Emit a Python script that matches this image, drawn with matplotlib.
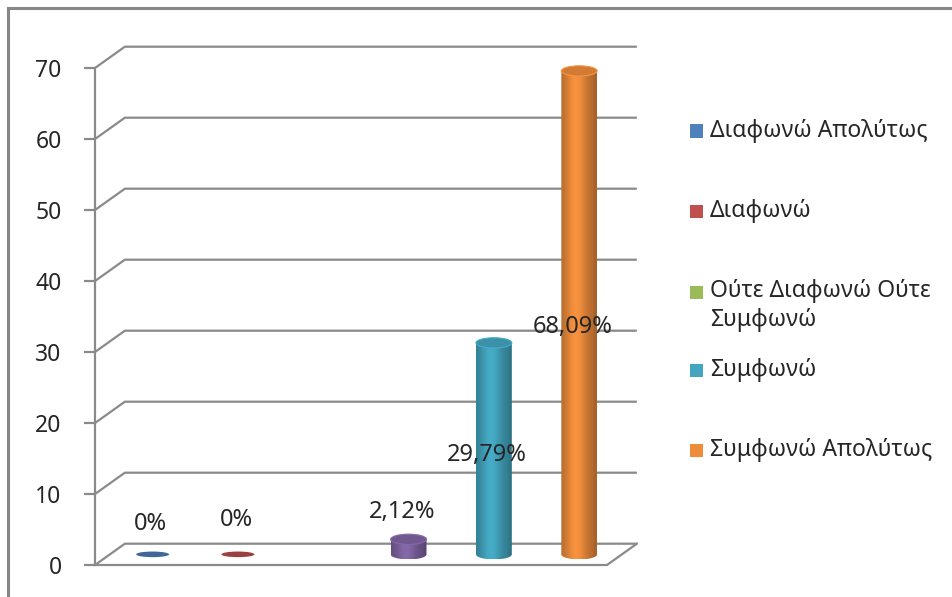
import numpy as np
import matplotlib
matplotlib.use("Agg")
import matplotlib.pyplot as plt
from matplotlib.patches import Polygon, Ellipse, Rectangle
from matplotlib.lines import Line2D
from matplotlib.colors import to_rgb

# Survey responses (percent) per answer; the third answer has no cylinder,
# the purple cylinder has no legend entry.
legend_names = ["Διαφωνώ Απολύτως", "Διαφωνώ", "Ούτε Διαφωνώ Ούτε\nΣυμφωνώ", None,
                "Συμφωνώ", "Συμφωνώ Απολύτως"]
values = [0, 0, None, 2.12, 29.79, 68.09]
colors = ["#4F81BD", "#C0504D", "#9BBB59", "#8064A2", "#43A5BF", "#EE8C3C"]
y_ticks = [0, 10, 20, 30, 40, 50, 60, 70]

FONT = "Noto Sans"
GRID = "#8a8a8a"
TXT = "#262626"

W, H = 952, 597
fig = plt.figure(figsize=(W / 100, H / 100), dpi=100)

# pseudo-3D geometry (data units)
n = len(values)
depth_dx, depth_dy = 0.35, 3.0
x_max, y_max = 6.39, 74.0
ax_left_px, ax_bottom_px = 95, 565
px_per_x, px_per_y = 85.33, 7.1
ax = fig.add_axes([ax_left_px / W, (H - ax_bottom_px) / H,
                   x_max * px_per_x / W, y_max * px_per_y / H])
ax.set_xlim(0, x_max)
ax.set_ylim(0, y_max)
ax.set_facecolor("none")
for s in ["top", "right", "bottom"]:
    ax.spines[s].set_visible(False)
ax.spines["left"].set_bounds(0, y_ticks[-1])
ax.spines["left"].set_color(GRID)
ax.spines["left"].set_linewidth(1.6)
ax.set_xticks([])
ax.set_yticks(y_ticks)
ax.tick_params(axis="y", length=8, width=1.6, color=GRID, pad=16,
               labelsize=16.5, labelcolor=TXT)
for lab in ax.get_yticklabels():
    lab.set_fontfamily(FONT)

# back-wall gridlines with their diagonal from the front axis
for v in y_ticks:
    ax.plot([0, depth_dx, n + depth_dx], [v, v + depth_dy, v + depth_dy],
            color=GRID, lw=1.6, solid_capstyle="butt", clip_on=False, zorder=1)
# floor front edge and right edge
ax.plot([0, n, n + depth_dx], [0, 0, depth_dy], color=GRID, lw=1.6,
        clip_on=False, zorder=1)

cyl_w = 0.42
ry = 0.72
base = depth_dy / 2

def shaded(color, m):
    rgb = np.array(to_rgb(color))
    t = np.linspace(0, 1, m)
    f = 0.74 + 0.3 * np.exp(-((t - 0.42) / 0.3) ** 2)
    f[t > 0.9] *= 0.95
    img = np.clip(rgb[None, :] * f[:, None], 0, 1)
    return img[None, :, :]

for i, (v, c) in enumerate(zip(values, colors)):
    if v is None:
        continue
    cx = i + 0.5 + depth_dx / 2
    top = base + v
    rgb = np.array(to_rgb(c))
    if v > 0:
        th = np.linspace(np.pi, 2 * np.pi, 60)
        arc = np.column_stack([cx + cyl_w / 2 * np.cos(th), base + ry * np.sin(th)])
        pts = np.vstack([arc, [[cx + cyl_w / 2, top], [cx - cyl_w / 2, top]]])
        body = Polygon(pts, closed=True, facecolor="none", edgecolor="none")
        ax.add_patch(body)
        im = ax.imshow(shaded(c, 200), extent=[cx - cyl_w / 2, cx + cyl_w / 2,
                                               base - ry, top],
                       aspect="auto", interpolation="bilinear", zorder=3)
        im.set_clip_path(body)
        ax.add_patch(Ellipse((cx, top), cyl_w, 2 * ry,
                             facecolor=np.clip(rgb * 0.88, 0, 1),
                             edgecolor=np.clip(rgb * 1.05, 0, 1),
                             lw=0.8, zorder=4))
        lx, ly = cx - 0.08, (base + v + 3.9) if v < 10 else (base + v * 0.47)
    else:
        ax.add_patch(Ellipse((cx, base), cyl_w * 0.92, ry * 1.1,
                             facecolor=np.clip(rgb * 0.8, 0, 1),
                             edgecolor="none", zorder=4))
        lx, ly = cx - 0.02, base + 4.3 + 0.5 * i
    label = f"{v:.2f}".replace(".", ",") + "%" if v > 0 else "0%"
    ax.text(lx, ly, label, ha="center", va="center", fontsize=17,
            family=FONT, color=TXT, zorder=6)

# legend
leg_rows = [(0, 131), (1, 211), (2, 292), (4, 370), (5, 450)]
for idx, ypx in leg_rows:
    fig.add_artist(Rectangle((690 / W, (H - ypx - 6.5) / H), 13 / W, 13 / H,
                             transform=fig.transFigure, facecolor=colors[idx],
                             edgecolor="none"))
    multi = "\n" in legend_names[idx]
    fig.text(710 / W, (H - ypx + (13 if multi else 0)) / H, legend_names[idx],
             ha="left", va="top" if multi else "center",
             fontsize=16.5, family=FONT, color=TXT, linespacing=1.3)

# outer chart frame (top and left edges)
fig.add_artist(Line2D([8 / W, 1], [1 - 8 / H, 1 - 8 / H], color="#868686",
                      lw=2.2, transform=fig.transFigure))
fig.add_artist(Line2D([8 / W, 8 / W], [0, 1 - 8 / H], color="#868686",
                      lw=2.2, transform=fig.transFigure))

fig.savefig("out.png", dpi=100)
